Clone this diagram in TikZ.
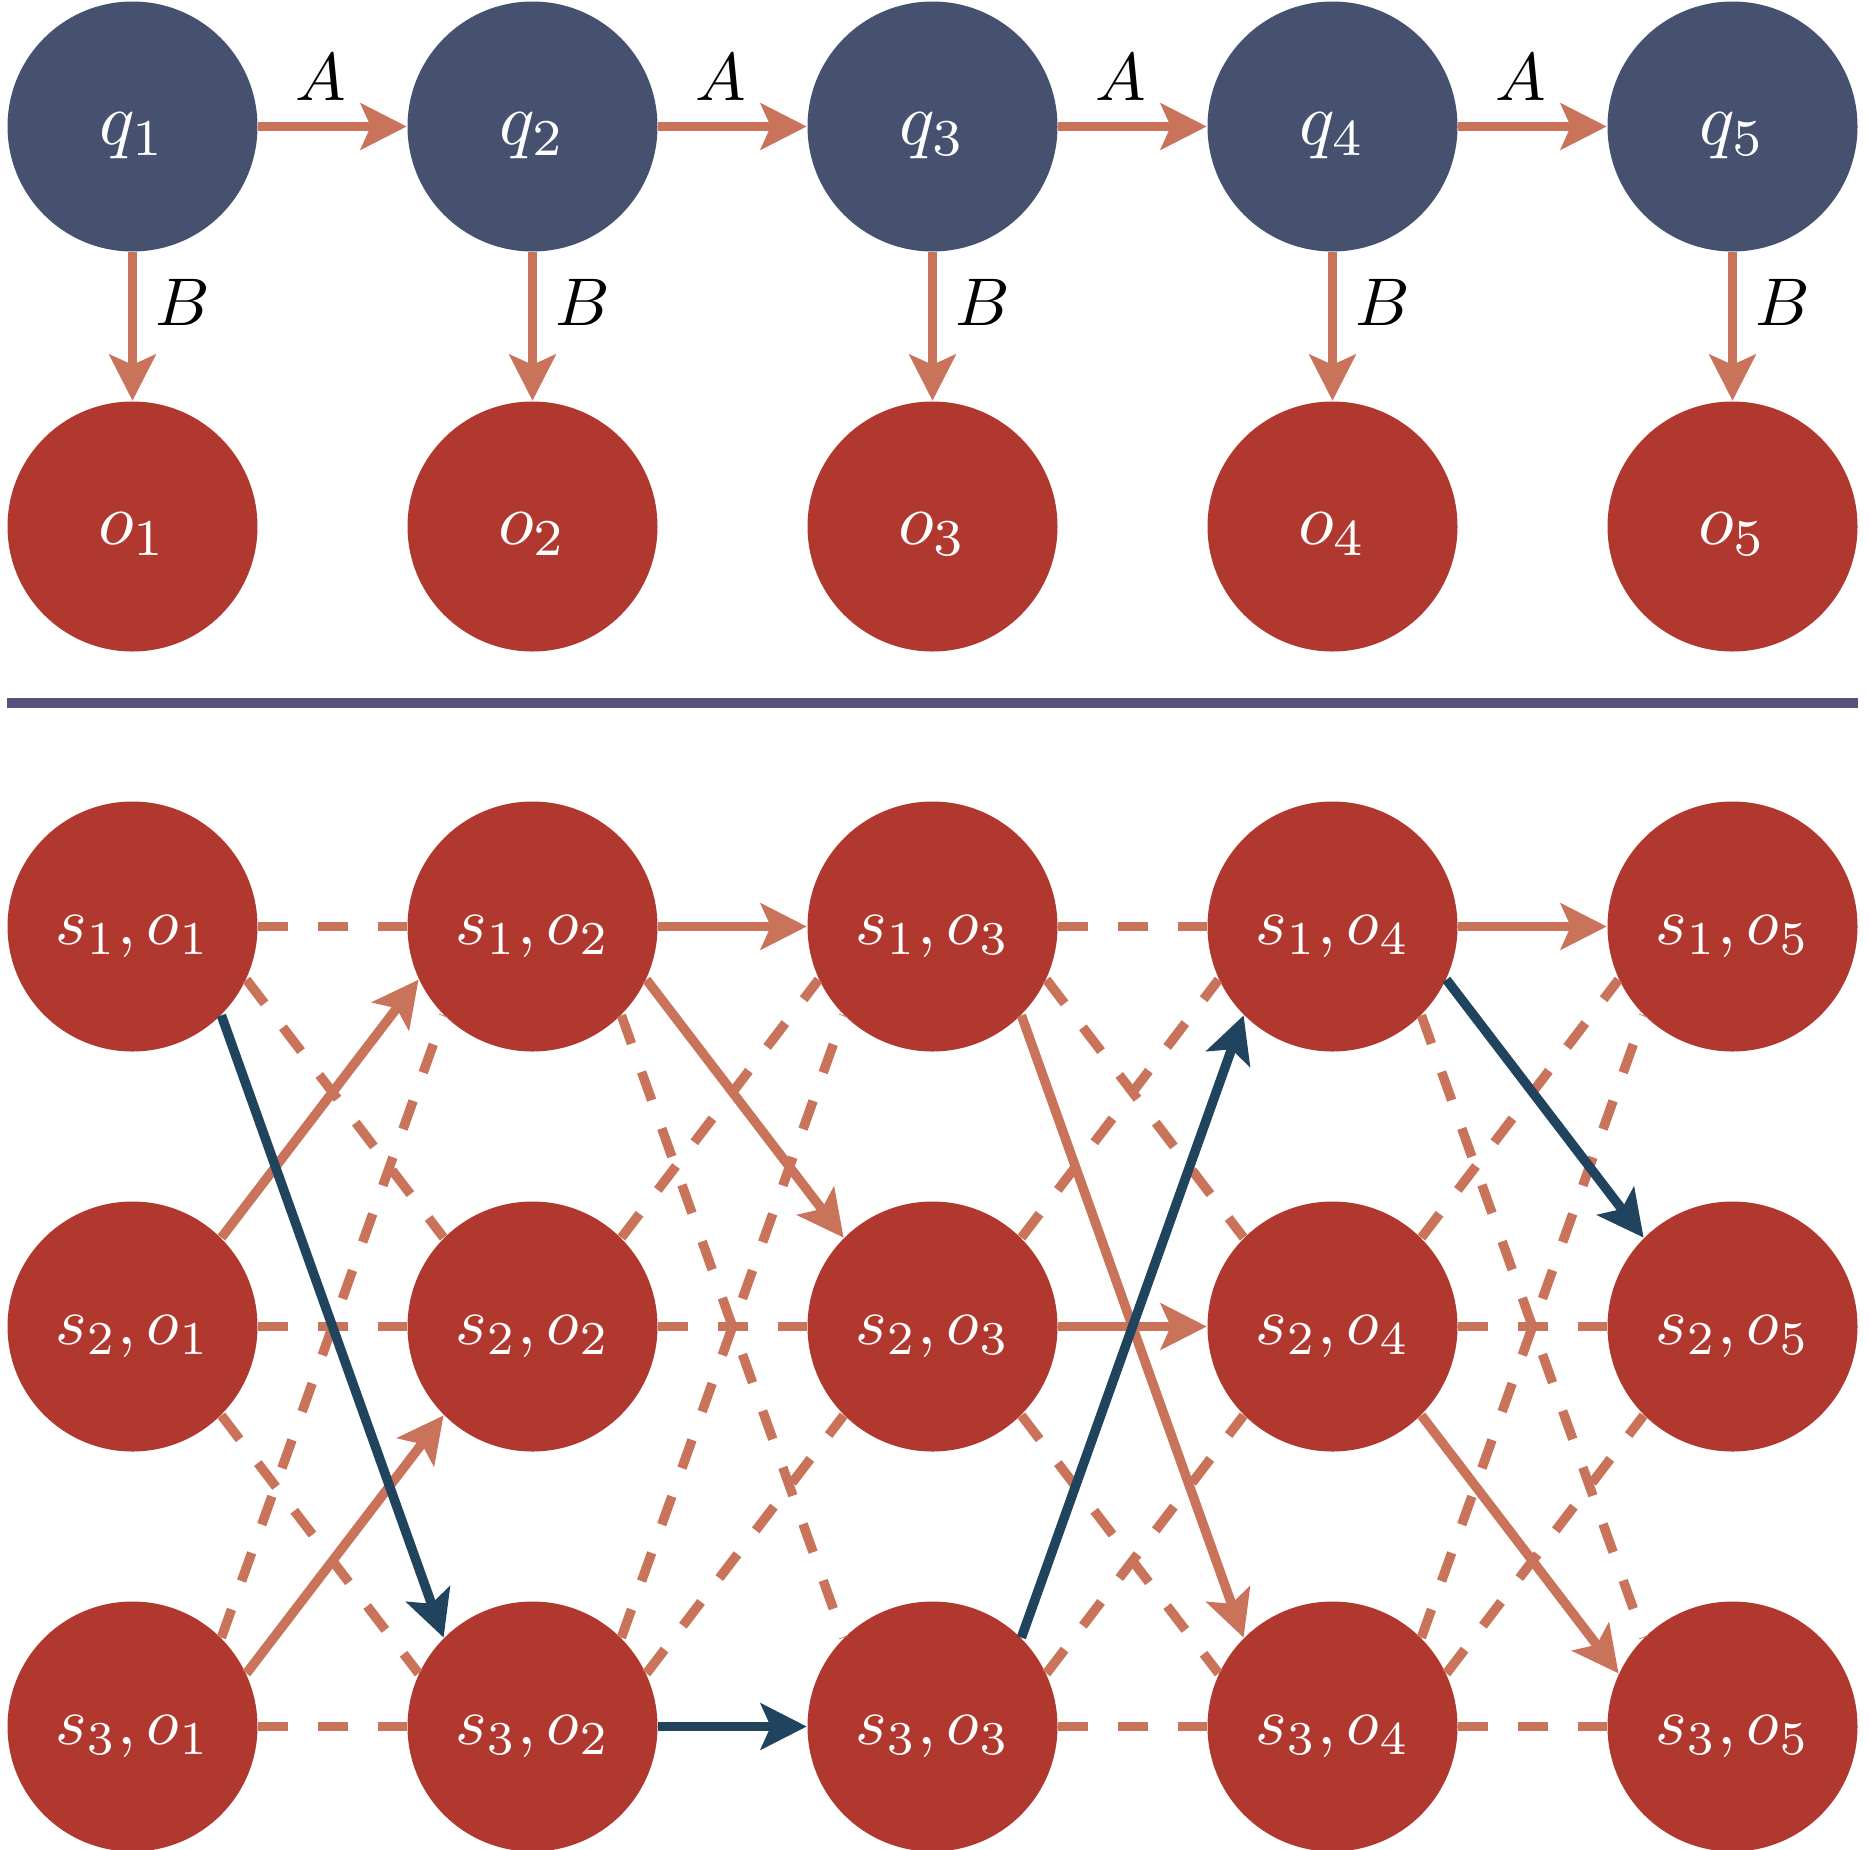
\documentclass[tikz,border=0pt]{standalone}
\usetikzlibrary{arrows.meta}

\definecolor{hiddenfill}{HTML}{465170}
\definecolor{obsfill}{HTML}{B0382E}
\definecolor{linkcol}{HTML}{C8735A}
\definecolor{bestcol}{HTML}{21445E}
\definecolor{rulecol}{HTML}{58527F}

% enlarged math labels (10pt design sizes, scaled up)
\newcommand\toplab[1]{\scalebox{2.1}{$#1$}}
\newcommand\cellab[1]{\scalebox{1.915}{$#1$}}
\newcommand\edgelab[1]{\scalebox{1.92}{$#1$}}

\tikzset{
  ball/.style={circle, minimum size=2.5cm, inner sep=0pt, text=white,
    text height=0.36cm, text depth=0cm},
  hid/.style={ball, fill=hiddenfill},
  obs/.style={ball, fill=obsfill},
  wire/.style={draw=linkcol, line width=0.095cm},
  faint/.style={wire, dash pattern=on 0.3cm off 0.3cm},
  tipped/.style={-{Stealth[length=0.46cm,width=0.46cm,inset=0.1cm]}},
  kept/.style={wire, tipped},
  best/.style={draw=bestcol, line width=0.095cm, tipped},
  lab/.style={inner sep=0pt, outer sep=0pt},
}

\begin{document}
\begin{tikzpicture}
\useasboundingbox (0,0) rectangle (18.70,-18.50);

% hidden chain, observations and the trellis of (state, observation) pairs
\foreach \t in {1,...,5} {
  \pgfmathsetmacro\cx{1.325+4*(\t-1)}
  \node[hid] (q\t) at (\cx,-1.265) {\toplab{q_{\t}}};
  \node[obs] (o\t) at (\cx,-5.265) {\toplab{o_{\t}}};
  \foreach \i in {1,2,3} {
    \pgfmathsetmacro\cy{-9.265-4*(\i-1)}
    \node[obs] (s\i o\t) at (\cx,\cy) {\cellab{s_{\i}, o_{\t}}};
  }
}

% transitions A and emissions B
\foreach \t [evaluate=\t as \n using {int(\t+1)}] in {1,...,4}
  \draw[kept] (q\t.east) -- node[lab, pos=0.42, above=0.26cm] {\edgelab{A}} (q\n.west);
\foreach \t in {1,...,5}
  \draw[kept] (q\t.south) -- node[lab, pos=0.337, right=0.23cm] {\edgelab{B}} (o\t.north);

% separating rule
\coordinate (ruleL) at (o1.west |- 0,-7.025);
\coordinate (ruleR) at (o5.east |- 0,-7.025);
\draw[draw=rulecol, line width=0.1cm] (ruleL) -- (ruleR);

% discarded transitions
\foreach \a/\b in {s1o1/s1o2, s2o1/s2o2, s3o1/s3o2, s2o2/s2o3,
                   s1o3/s1o4, s3o3/s3o4, s2o4/s2o5, s3o4/s3o5}
  \draw[faint] (\a.east) -- (\b.west);
\foreach \a/\p/\b/\q in {
    s1o1/-25/s2o2/135, s2o1/-45/s3o2/155, s3o1/45/s1o2/225,
    s1o2/-45/s3o3/135, s2o2/45/s1o3/205, s3o2/45/s1o3/225, s3o2/25/s2o3/225,
    s1o3/-25/s2o4/135, s2o3/45/s1o4/205, s2o3/-45/s3o4/155, s3o3/25/s2o4/225,
    s1o4/-45/s3o5/135, s2o4/45/s1o5/205, s3o4/45/s1o5/225, s3o4/25/s2o5/225}
  \draw[faint] (\a.\p) -- (\b.\q);

% back-pointers kept at each step
\foreach \a/\b in {s1o2/s1o3, s2o3/s2o4, s1o4/s1o5}
  \draw[kept] (\a.east) -- (\b.west);
\foreach \a/\p/\b/\q in {
    s2o1/45/s1o2/205, s3o1/25/s2o2/225, s1o2/-25/s2o3/135,
    s1o3/-45/s3o4/135, s2o4/-45/s3o5/155}
  \draw[kept] (\a.\p) -- (\b.\q);

% most likely state sequence
\draw[best] (s3o2.east) -- (s3o3.west);
\foreach \a/\p/\b/\q in {
    s1o1/-45/s3o2/135, s3o3/45/s1o4/225, s1o4/-25/s2o5/135}
  \draw[best] (\a.\p) -- (\b.\q);
\end{tikzpicture}
\end{document}
